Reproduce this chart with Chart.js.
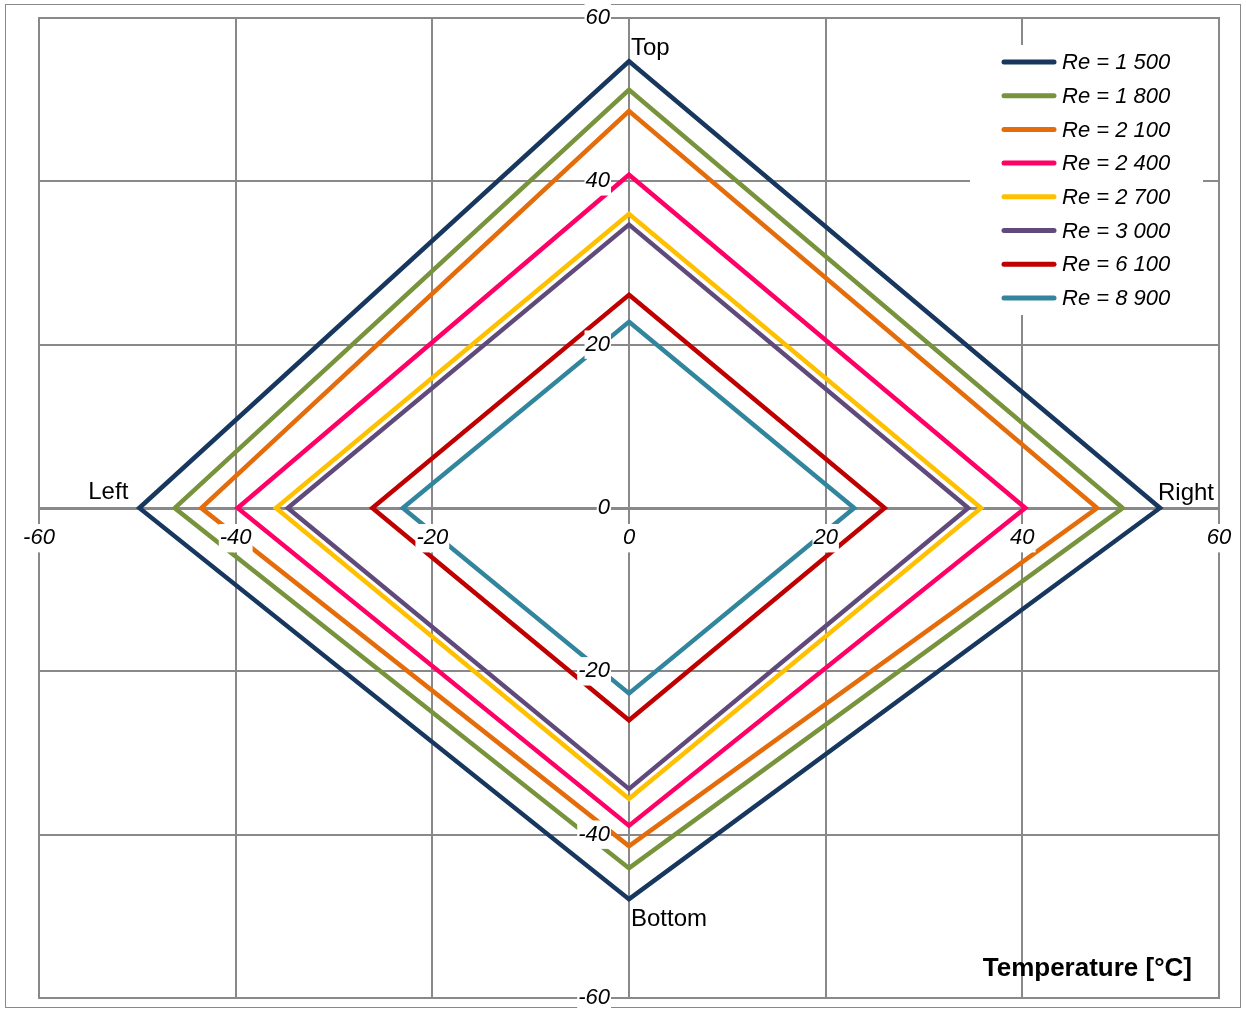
<!DOCTYPE html>
<html><head><meta charset="utf-8">
<script src="https://cdn.jsdelivr.net/npm/chart.js@4"></script>
<style>html,body{margin:0;padding:0;background:#fff;}#wrap{width:1246px;height:1012px;position:relative;}</style>
</head><body><div id="wrap"><canvas id="c" width="1246" height="1012"></canvas></div>
<script>
const seriesLabels = ['Re = 1 500', 'Re = 1 800', 'Re = 2 100', 'Re = 2 400', 'Re = 2 700', 'Re = 3 000', 'Re = 6 100', 'Re = 8 900'];
const topValues    = [54.7, 51.2, 48.6, 40.8, 36.0, 34.7, 26.1, 22.8];
const rightValues  = [54.0, 50.2, 47.6, 40.3, 35.8, 34.5, 26.0, 22.9];
const bottomValues = [-47.9, -44.1, -41.4, -38.9, -35.6, -34.4, -26.0, -22.7];
const leftValues   = [-49.8, -46.2, -43.5, -39.8, -35.9, -34.7, -26.1, -23.0];
const seriesColors = ['#17375E', '#77933C', '#E46C0A', '#FF0066', '#FFC000', '#604A7B', '#C00000', '#31859C'];
const tickValues   = [-60, -40, -20, 0, 20, 40, 60];
const pointNames   = ['Top', 'Right', 'Bottom', 'Left'];
const axisTitle    = 'Temperature [°C]';

const FONT = '"Liberation Sans", Arial, Helvetica, sans-serif';
const GRID = '#898989';

const datasets = seriesLabels.map((lab, i) => ({
  label: lab,
  data: [
    {x: 0, y: topValues[i]},
    {x: rightValues[i], y: 0},
    {x: 0, y: bottomValues[i]},
    {x: leftValues[i], y: 0},
    {x: 0, y: topValues[i]},
    {x: rightValues[i], y: 0}
  ],
  borderColor: seriesColors[i],
  backgroundColor: seriesColors[i],
  borderWidth: 4.5,
  borderJoinStyle: 'miter',
  showLine: true,
  pointRadius: 0,
  pointHoverRadius: 0,
  tension: 0,
  fill: false
}));

const decor = {
  id: 'decor',
  beforeDraw(chart) {
    const ctx = chart.ctx;
    ctx.save();
    ctx.fillStyle = '#fff';
    ctx.fillRect(0, 0, chart.width, chart.height);
    ctx.strokeStyle = GRID;
    ctx.lineWidth = 1;
    ctx.strokeRect(5.5, 4.5, 1235, 1003);
    ctx.restore();
  },
  beforeDatasetsDraw(chart) {
    const ctx = chart.ctx, a = chart.chartArea;
    ctx.save();
    ctx.strokeStyle = GRID;
    ctx.lineWidth = 2;
    ctx.strokeRect(a.left, a.top, a.right - a.left, a.bottom - a.top);
    ctx.restore();
  },
  afterDraw(chart) {
    const ctx = chart.ctx, xs = chart.scales.x, ys = chart.scales.y;
    ctx.save();
    ctx.fillStyle = '#000';
    ctx.font = '24px ' + FONT;
    const tx = xs.getPixelForValue(0), ty = ys.getPixelForValue(topValues[0]);
    ctx.textAlign = 'left'; ctx.textBaseline = 'alphabetic';
    ctx.fillText(pointNames[0], tx + 2, ty - 6);
    const rx = xs.getPixelForValue(rightValues[0]), ry = ys.getPixelForValue(0);
    ctx.fillText(pointNames[1], rx - 2, ry - 8);
    const bx = xs.getPixelForValue(0), by = ys.getPixelForValue(bottomValues[0]);
    ctx.textBaseline = 'top';
    ctx.fillText(pointNames[2], bx + 2, by + 8);
    const lx = xs.getPixelForValue(leftValues[0]), ly = ys.getPixelForValue(0);
    ctx.textAlign = 'right'; ctx.textBaseline = 'alphabetic';
    ctx.fillText(pointNames[3], lx - 11, ly - 9);

    ctx.fillStyle = '#fff';
    ctx.fillRect(970, 45, 233, 270);
    ctx.font = 'italic 22px ' + FONT;
    ctx.textAlign = 'left'; ctx.textBaseline = 'middle';
    chart.data.datasets.forEach((ds, i) => {
      const y = 62 + i * 33.7;
      ctx.strokeStyle = ds.borderColor;
      ctx.lineWidth = 5;
      ctx.lineCap = 'round';
      ctx.beginPath(); ctx.moveTo(1004, y); ctx.lineTo(1054, y); ctx.stroke();
      ctx.fillStyle = '#000';
      ctx.fillText(ds.label, 1062, y + 1);
    });

    ctx.font = 'bold 26px ' + FONT;
    ctx.textAlign = 'right'; ctx.textBaseline = 'alphabetic';
    ctx.fillStyle = '#000';
    ctx.fillText(axisTitle, 1192, 976);
    ctx.restore();
  }
};

const tickOpts = (pad) => ({
  font: {family: FONT, size: 22, style: 'italic'},
  color: '#000',
  padding: pad,
  z: 1,
  showLabelBackdrop: true,
  backdropColor: '#fff',
  backdropPadding: 1,
  callback: v => String(v)
});

const zeroPad = s => { s.paddingTop = 0; s.paddingBottom = 0; s.paddingLeft = 0; s.paddingRight = 0; };

new Chart(document.getElementById('c'), {
  type: 'scatter',
  data: {datasets},
  options: {
    responsive: false,
    animation: false,
    devicePixelRatio: 1,
    layout: {padding: {left: 39, top: 18, right: 27, bottom: 14}},
    plugins: {legend: {display: false}, tooltip: {enabled: false}},
    scales: {
      x: {
        type: 'linear', position: 'center', min: -60, max: 60,
        afterBuildTicks: s => { s.ticks = tickValues.map(v => ({value: v})); },
        afterFit: zeroPad,
        ticks: tickOpts(17),
        grid: {color: GRID, lineWidth: 2, drawTicks: false},
        border: {color: GRID, width: 2}
      },
      y: {
        type: 'linear', position: 'center', min: -60, max: 60,
        afterBuildTicks: s => { s.ticks = tickValues.map(v => ({value: v})); },
        afterFit: zeroPad,
        ticks: tickOpts(19),
        grid: {color: GRID, lineWidth: 2, drawTicks: false},
        border: {color: GRID, width: 2}
      }
    }
  },
  plugins: [decor]
});
</script></body></html>
